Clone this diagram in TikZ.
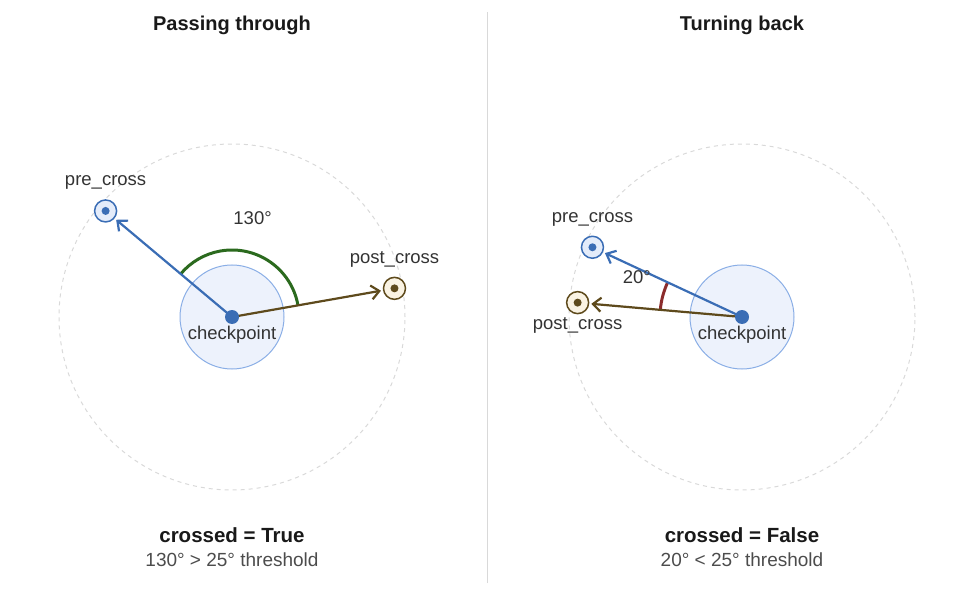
\documentclass[tikz,border=0pt]{standalone}
\usepackage{fontspec}
\setmainfont{Liberation Sans}
\usetikzlibrary{arrows.meta,positioning}
\definecolor{cpblue}{HTML}{3A6DB5}
\definecolor{zonefill}{HTML}{EDF2FC}
\definecolor{zoneedge}{HTML}{8AAEE6}
\definecolor{prefill}{HTML}{E4ECFA}
\definecolor{postbrown}{HTML}{5E4A1C}
\definecolor{postfill}{HTML}{FAF3E3}
\definecolor{anglegreen}{HTML}{2B6A1E}
\definecolor{anglered}{HTML}{8B2C2C}
\definecolor{inktext}{HTML}{333333}
\tikzset{range circle/.style={draw=black!15, dashed, dash pattern=on 4pt off 4pt, line width=1pt}}
\tikzset{zone node/.style={circle, draw=zoneedge, fill=zonefill, line width=1pt, minimum size=104pt, inner sep=0pt}}
\tikzset{centre node/.style={circle, fill=cpblue, minimum size=14pt, inner sep=0pt}}
\tikzset{pre node/.style={circle, draw=cpblue, fill=prefill, line width=1.5pt, minimum size=22pt, inner sep=0pt,
    path picture={\fill[cpblue] (path picture bounding box.center) circle (4pt);}}}
\tikzset{post node/.style={circle, draw=postbrown, fill=postfill, line width=1.5pt, minimum size=22pt, inner sep=0pt,
    path picture={\fill[postbrown] (path picture bounding box.center) circle (4pt);}}}
\tikzset{guide line/.style={draw=black!15, dashed, dash pattern=on 5pt off 4pt, line width=1pt}}
\tikzset{pre arrow/.style={draw=cpblue, line width=2.2pt, shorten >=2pt, -{Straight Barb[length=8pt,width=14pt]}}}
\tikzset{post arrow/.style={draw=postbrown, line width=2.2pt, shorten >=2pt, -{Straight Barb[length=8pt,width=14pt]}}}
\tikzset{tag/.style={text=inktext, font=\fontsize{18.5}{22}\selectfont, inner sep=0pt, text height=13pt, text depth=4pt}}
\tikzset{title/.style={text=black!90, font=\fontsize{20}{24}\selectfont\bfseries}}
\tikzset{verdict/.style={text=black!90, font=\fontsize{20.5}{24}\selectfont\bfseries}}
\tikzset{note/.style={text=black!70, font=\fontsize{19}{22}\selectfont}}

\begin{document}
\begin{tikzpicture}[x=1pt, y=1pt]
          \useasboundingbox (0,0) rectangle (980,590);
          \draw [draw=black!15, line width=1pt] (487,7) -- (487,578);

          \coordinate (lcp) at (232,273);
          \coordinate (rcp) at (742,273);
          \node [title]   (ltitle)   at (232,565) {Passing through};
          \node [title]   (rtitle)   at (742,565) {Turning back};

          \draw [range circle] (lcp) circle [radius=173pt];
          \draw [range circle] (rcp) circle [radius=173pt];
          \node [zone node] (lzone) at (lcp) {};
          \node [zone node] (rzone) at (rcp) {};

          \node [pre node]  (lpre)  at ([shift={(140:165pt)}]lcp) {};
          \node [post node] (lpost) at ([shift={(10:165pt)}]lcp)  {};
          \node [pre node]  (rpre)  at ([shift={(155:165pt)}]rcp) {};
          \node [post node] (rpost) at ([shift={(175:165pt)}]rcp) {};

          \draw [guide line] (lcp) -- (lpre);
          \draw [guide line] (lcp) -- (lpost);
          \draw [guide line] (rcp) -- (rpre);
          \draw [guide line] (rcp) -- (rpost);

          \draw [anglegreen, line width=3pt] ([shift={(10:67pt)}]lcp) arc [start angle=10, end angle=140, radius=67pt];
          \draw [anglered, line width=3pt] ([shift={(155:82pt)}]rcp) arc [start angle=155, end angle=175, radius=82pt];

          \draw [pre arrow]  (lcp) -- (lpre);
          \draw [post arrow] (lcp) -- (lpost);
          \draw [pre arrow]  (rcp) -- (rpre);
          \draw [post arrow] (rcp) -- (rpost);

          \node [centre node] (lcpdot) at (lcp) {};
          \node [centre node] (rcpdot) at (rcp) {};

          \node [tag] (lpretag)  at ([yshift=30pt]lpre)    {pre\_cross};
          \node [tag] (lposttag) at ([yshift=29pt]lpost)   {post\_cross};
          \node [tag] (lcptag)   at ([yshift=-18pt]lcpdot) {checkpoint};
          \node [tag] (langle)   at ([shift={(78:99pt)}]lcp) {130°};
          \node [tag] (rpretag)  at ([yshift=29pt]rpre)    {pre\_cross};
          \node [tag] (rposttag) at ([yshift=-22pt]rpost)  {post\_cross};
          \node [tag] (rcptag)   at ([yshift=-18pt]rcpdot) {checkpoint};
          \node [tag] (rangle)   at ([shift={(160:112pt)}]rcp) {20°};

          \node [verdict] (lverdict) at (232,55) {crossed = True};
          \node [note]    (lnote)    at (232,30) {130° > 25° threshold};
          \node [verdict] (rverdict) at (742,55) {crossed = False};
          \node [note]    (rnote)    at (742,30) {20° < 25° threshold};
        \end{tikzpicture}
\end{document}
